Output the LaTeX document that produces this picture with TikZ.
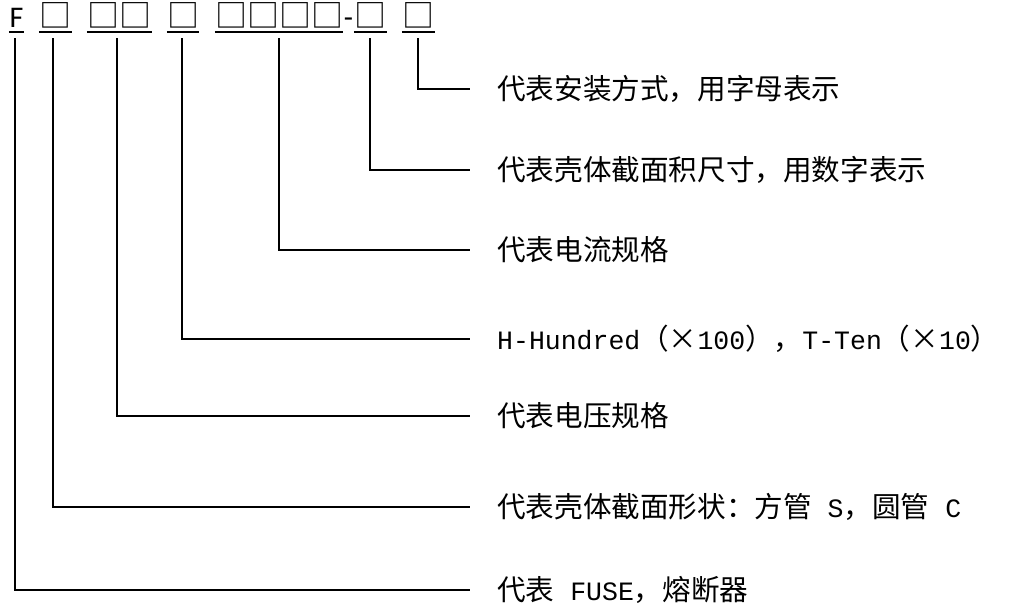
\documentclass[tikz,border=0pt]{standalone}
\usepackage{fontspec}
\setmainfont{Liberation Serif}
\newfontfamily\cjk{Noto Sans CJK SC}
\newfontfamily\latm{Liberation Mono}
\newfontfamily\cali{Carlito}
\usetikzlibrary{calc}
\newcommand\lat[1]{{\latm\fontsize{26.5pt}{30pt}\selectfont #1}}
\begin{document}
\begin{tikzpicture}[x=1pt,y=-1pt,
  lead/.style={line width=1.6pt},
  uline/.style={line width=2.2pt},
  grp/.style={inner sep=0pt, anchor=base, font=\cjk\fontsize{32pt}{34pt}\selectfont},
  grpl/.style={inner sep=0pt, anchor=base, font=\cali\fontsize{30pt}{32pt}\selectfont},
  lab/.style={inner sep=0pt, anchor=base west, font=\cjk\fontsize{28.6pt}{32pt}\selectfont}]
\useasboundingbox (0,0) rectangle (1010,606);
% code groups
\node[grpl, minimum width=15pt] (gF) at (16.5,27) {F};
\node[grp, minimum width=33pt] (g1) at (55.5,27) {□};
\node[grp, minimum width=65pt] (g2) at (119.5,27) {□□};
\node[grp, minimum width=32pt] (g3) at (183,27) {□};
\node[grp, minimum width=128pt] (g4) at (279,27) {□□□□};
\node[grpl] (dash) at (348.5,27) {-};
\node[grp, minimum width=33pt] (g5) at (370.5,27) {□};
\node[grp, minimum width=33pt] (g6) at (418.5,27) {□};
% underlines
\foreach \g in {gF,g1,g2,g3,g4,g5,g6}
  \draw[uline] ($(\g.base west)+(0,5)$) -- ($(\g.base east)+(0,5)$);
% labels
\node[lab] (l1) at (497,99.5) {代表安装方式，用字母表示};
\node[lab] (l2) at (497,180.5) {代表壳体截面积尺寸，用数字表示};
\node[lab] (l3) at (497,260.5) {代表电流规格};
\node[lab] (l4) at (497,349.5) {\lat{H-Hundred}（×\lat{100}），\lat{T-Ten}（×\lat{10}）};
\node[lab] (l5) at (497,426.5) {代表电压规格};
\node[lab] (l6) at (497,517.5) {代表壳体截面形状：方管\lat{\ S}，圆管\lat{\ C}};
\node[lab] (l7) at (497,600.5) {代表\lat{\ FUSE}，熔断器};
% leaders
\draw[lead] ($(g6.base)+(-0.5,11)$) |- ($(l1.base west)+(-27,-10.5)$);
\draw[lead] ($(g5.base)+(-0.5,11)$) |- ($(l2.base west)+(-27,-10.5)$);
\draw[lead] ($(g4.base)+(0,11)$) |- ($(l3.base west)+(-27,-10.5)$);
\draw[lead] ($(g3.base)+(-1,11)$) |- ($(l4.base west)+(-27,-10.5)$);
\draw[lead] ($(g2.base)+(-2.5,11)$) |- ($(l5.base west)+(-27,-10.5)$);
\draw[lead] ($(g1.base)+(-2.5,11)$) |- ($(l6.base west)+(-27,-10.5)$);
\draw[lead] ($(gF.base)+(-1.5,11)$) |- ($(l7.base west)+(-27,-10.5)$);
\end{tikzpicture}
\end{document}
